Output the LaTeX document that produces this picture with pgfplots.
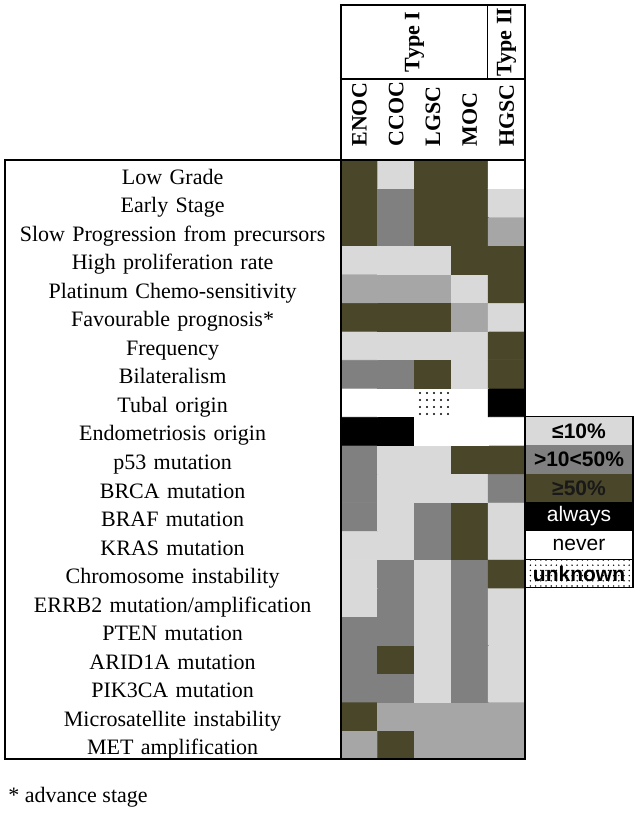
\documentclass[border=0pt]{standalone}
\usepackage{fontspec}
\setmainfont{Liberation Serif}
\setsansfont{Liberation Sans}
\usepackage{pgfplots}
\usepackage{pgfplotstable}
\pgfplotsset{compat=1.18}
\usetikzlibrary{patterns.meta}
\definecolor{lg}{HTML}{D9D9D9}
\definecolor{ag}{HTML}{A6A6A6}
\definecolor{mg}{HTML}{808080}
\definecolor{ol}{HTML}{4A4629}

% codes: 0 never(white) 1 light 2 gray A6 3 mid gray 4 olive 5 always(black)
\pgfplotstableread{
x y c
0 0 2
1 0 4
2 0 2
3 0 2
4 0 2
0 1 4
1 1 2
2 1 2
3 1 2
4 1 2
0 2 3
1 2 3
2 2 1
3 2 3
4 2 1
0 3 3
1 3 4
2 3 1
3 3 3
4 3 1
0 4 3
1 4 3
2 4 1
3 4 3
4 4 1
0 5 1
1 5 3
2 5 1
3 5 3
4 5 1
0 6 1
1 6 3
2 6 1
3 6 3
4 6 4
0 7 1
1 7 1
2 7 3
3 7 4
4 7 1
0 8 3
1 8 1
2 8 3
3 8 4
4 8 1
0 9 3
1 9 1
2 9 1
3 9 1
4 9 3
0 10 3
1 10 1
2 10 1
3 10 4
4 10 4
0 11 5
1 11 5
2 11 0
3 11 0
4 11 0
0 12 0
1 12 0
2 12 0
3 12 0
4 12 5
0 13 3
1 13 3
2 13 4
3 13 1
4 13 4
0 14 1
1 14 1
2 14 1
3 14 1
4 14 4
0 15 4
1 15 4
2 15 4
3 15 2
4 15 1
0 16 2
1 16 2
2 16 2
3 16 1
4 16 4
0 17 1
1 17 1
2 17 1
3 17 4
4 17 4
0 18 4
1 18 3
2 18 4
3 18 4
4 18 2
0 19 4
1 19 3
2 19 4
3 19 4
4 19 1
0 20 4
1 20 1
2 20 4
3 20 4
4 20 0
}\cells

\begin{document}
\begin{tikzpicture}[x=1pt,y=1pt,font=\fontsize{11}{13}\selectfont]
\path (0,0) rectangle (319,410);
\begin{axis}[
  at={(170.5pt,30.5pt)}, anchor=south west,
  scale only axis, width=92pt, height=299.5pt,
  xmin=-0.5, xmax=4.5, ymin=-0.5, ymax=20.5,
  axis line style={draw=none}, tick style={draw=none},
  xtick={0,...,4}, xticklabels={ENOC,CCOC,LGSC,MOC,HGSC},
  xticklabel pos=upper,
  xticklabel style={rotate=90, anchor=west, font=\fontsize{11}{13}\selectfont\bfseries, inner sep=0pt},
  xticklabel shift=6.5pt,
  ytick={0,...,20},
  yticklabels={MET amplification, Microsatellite instability, PIK3CA mutation, ARID1A mutation, PTEN mutation, ERRB2 mutation/amplification, Chromosome instability, KRAS mutation, BRAF mutation, BRCA mutation, p53 mutation, Endometriosis origin, Tubal origin, Bilateralism, Frequency, Favourable prognosis*, Platinum Chemo-sensitivity, High proliferation rate, Slow Progression from precursors, Early Stage, Low Grade},
  yticklabel style={text width=168pt, align=center, anchor=east, inner sep=0pt, text height=10.5pt, text depth=0.5pt, font=\fontsize{11}{13}\selectfont},
  yticklabel shift=0pt,
  colormap={cat}{color=(white) color=(lg) color=(ag) color=(mg) color=(ol) color=(black)},
  colormap access=direct,
]
\addplot[matrix plot*, mesh/cols=5, point meta=explicit] table[x=x, y=y, meta=c]{\cells};
\addplot[draw=none, pattern={Dots[radius=0.55pt, distance=3.5pt]}, pattern color=black]
  coordinates {(1.5,11.5) (2.5,11.5) (2.5,12.5) (1.5,12.5)} -- cycle;
\end{axis}
% frame lines
\begin{scope}[line width=0.6pt]
\draw (2.5,30.5) rectangle (170.5,330);
\draw (170.5,30.5) -- (170.5,407.5) -- (262.5,407.5) -- (262.5,30.5) -- (170.5,30.5);
\draw (170.5,370.5) -- (262.5,370.5);
\draw (243.75,370.5) -- (243.75,407.5);
\draw (170.5,330) -- (262.5,330);
\end{scope}
\node[rotate=90, font=\fontsize{11}{13}\selectfont\bfseries] at (207.25,389) {Type I};
\node[rotate=90, font=\fontsize{11}{13}\selectfont\bfseries] at (253.25,389) {Type II};
% legend
\begin{scope}[font=\fontsize{10.5}{12}\selectfont\sffamily]
\fill[lg] (262.5,187.38) rectangle (316.5,201.64);
\fill[mg] (262.5,173.12) rectangle (316.5,187.38);
\fill[ol] (262.5,158.86) rectangle (316.5,173.12);
\fill[black] (262.5,144.60) rectangle (316.5,158.86);
\fill[white] (262.5,130.33) rectangle (316.5,144.60);
\fill[pattern={Dots[radius=0.4pt, distance=2.6pt]}] (262.5,116.07) rectangle (316.5,130.33);
\node[font=\fontsize{10.5}{12}\selectfont\sffamily\bfseries] at (289.5,194.51) {≤10\%};
\node[font=\fontsize{10.5}{12}\selectfont\sffamily\bfseries] at (289.5,180.25) {>10<50\%};
\node[font=\fontsize{10.5}{12}\selectfont\sffamily\bfseries, text=black!90] at (289.5,165.99) {≥50\%};
\node[text=white] at (289.5,151.73) {always};
\node at (289.5,137.47) {never};
\node[font=\fontsize{10.5}{12}\selectfont\sffamily\bfseries] at (289.5,123.20) {unknown};
\draw[line width=0.6pt] (262.5,116.07) rectangle (316.5,201.64);
\draw[line width=0.3pt] (262.5,130.33) -- (316.5,130.33);
\end{scope}
\node[anchor=west, inner sep=0pt] at (4,11.5) {* advance stage};
\end{tikzpicture}
\end{document}
